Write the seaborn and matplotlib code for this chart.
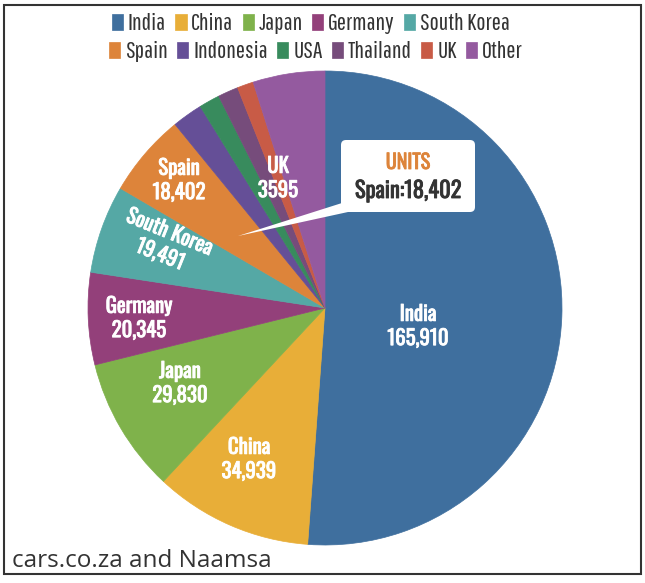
import logging
import matplotlib
matplotlib.use("Agg")
import matplotlib.pyplot as plt
import matplotlib.patheffects as pe
from matplotlib.patches import FancyBboxPatch, Polygon, Rectangle
import seaborn as sns
logging.getLogger("matplotlib.font_manager").setLevel(logging.ERROR)

categories = ["India", "China", "Japan", "Germany", "South Korea", "Spain",
              "Indonesia", "USA", "Thailand", "UK", "Other"]
values = [165910, 34939, 29830, 20345, 19491, 18402, 6750, 4600, 4500, 3595, 15900]
colors = ["#3F6F9E", "#E8AE38", "#7FB24B", "#93407A", "#55A8A5", "#DD843A",
          "#654F97", "#388B5D", "#764C7B", "#C85B46", "#945A9F"]
slice_labels = {"India": "India\n165,910", "China": "China\n34,939", "Japan": "Japan\n29,830",
                "Germany": "Germany\n20,345", "South Korea": "South Korea\n19,491",
                "Spain": "Spain\n18,402", "UK": "UK\n3595"}
label_pos = {"India": (418, 326, 0), "China": (249, 459, 0), "Japan": (180, 383, 0),
             "Germany": (139, 318, 0), "South Korea": (165, 243, -22),
             "Spain": (179, 180, 0), "UK": (278, 178, 0)}
source = "cars.co.za and Naamsa"

sns.set_theme(style="white")
BOLD = ["Oswald", "Antonio", "Roboto Condensed", "DejaVu Sans"]
THIN = ["Pathway Gothic One", "Archivo Narrow", "Roboto Condensed", "DejaVu Sans"]
W, H = 645, 583
fig = plt.figure(figsize=(W / 100, H / 100), dpi=100, facecolor="white")
ax = fig.add_axes([0, 0, 1, 1])
ax.set_xlim(0, W)
ax.set_ylim(0, H)
ax.axis("off")
Y = lambda y: H - y

ax.add_patch(Rectangle((3.5, Y(574)), 637, 569, fill=False, ec="#333333", lw=1.5))

palette = sns.color_palette(colors)
wedges, _ = ax.pie(values, colors=palette, startangle=90, counterclock=False,
                   center=(325, Y(308)), radius=237, frame=True)
for w, c in zip(wedges, palette):
    w.set_edgecolor(c)
    w.set_linewidth(0.5)
ax.set_xlim(0, W)
ax.set_ylim(0, H)
ax.set_aspect("auto")
ax.axis("off")

def heavy(color):
    return [pe.withStroke(linewidth=0.6, foreground=color)]

for name, txt in slice_labels.items():
    x, y, rot = label_pos[name]
    ax.text(x, Y(y), txt, color="white", family=BOLD, fontsize=15, fontweight="bold",
            ha="center", va="center", rotation=rot, linespacing=1.25, rotation_mode="anchor",
            path_effects=heavy("white"))

# callout
ax.add_patch(Polygon([(238, Y(236)), (342, Y(203)), (348, Y(212))], fc="white", ec="none", zorder=4))
ax.add_patch(FancyBboxPatch((345, Y(208)), 126, 64, boxstyle="round,pad=4,rounding_size=5",
                            fc="white", ec="none", zorder=4))
ax.text(408, Y(162), "UNITS", color="#DD843A", family=BOLD, fontsize=14.5, fontweight="bold",
        ha="center", va="center", zorder=5, path_effects=heavy("#DD843A"))
ax.text(408, Y(191), "Spain:18,402", color="#333333", family=BOLD, fontsize=16.2, fontweight="bold",
        ha="center", va="center", zorder=5, path_effects=heavy("#333333"))

# legend rows
def row(idx, y, cx):
    leg = ax.legend([wedges[i] for i in idx], [categories[i] for i in idx], ncol=len(idx),
                    loc="center", bbox_to_anchor=(cx / W, 1 - y / H), frameon=False,
                    prop={"family": THIN, "size": 17.5}, labelcolor="#333333",
                    handlelength=0.46, handleheight=0.62, handletextpad=0.2, columnspacing=0.38,
                    borderpad=0, borderaxespad=0)
    return leg
ax.add_artist(row(range(0, 5), 24, 311))
row(range(5, 11), 52, 316)

ax.text(12, Y(561), source, color="#333333", family=["Open Sans", "DejaVu Sans"], fontsize=17.5,
        ha="left", va="center")
fig.savefig("out.png", dpi=100, facecolor="white")
